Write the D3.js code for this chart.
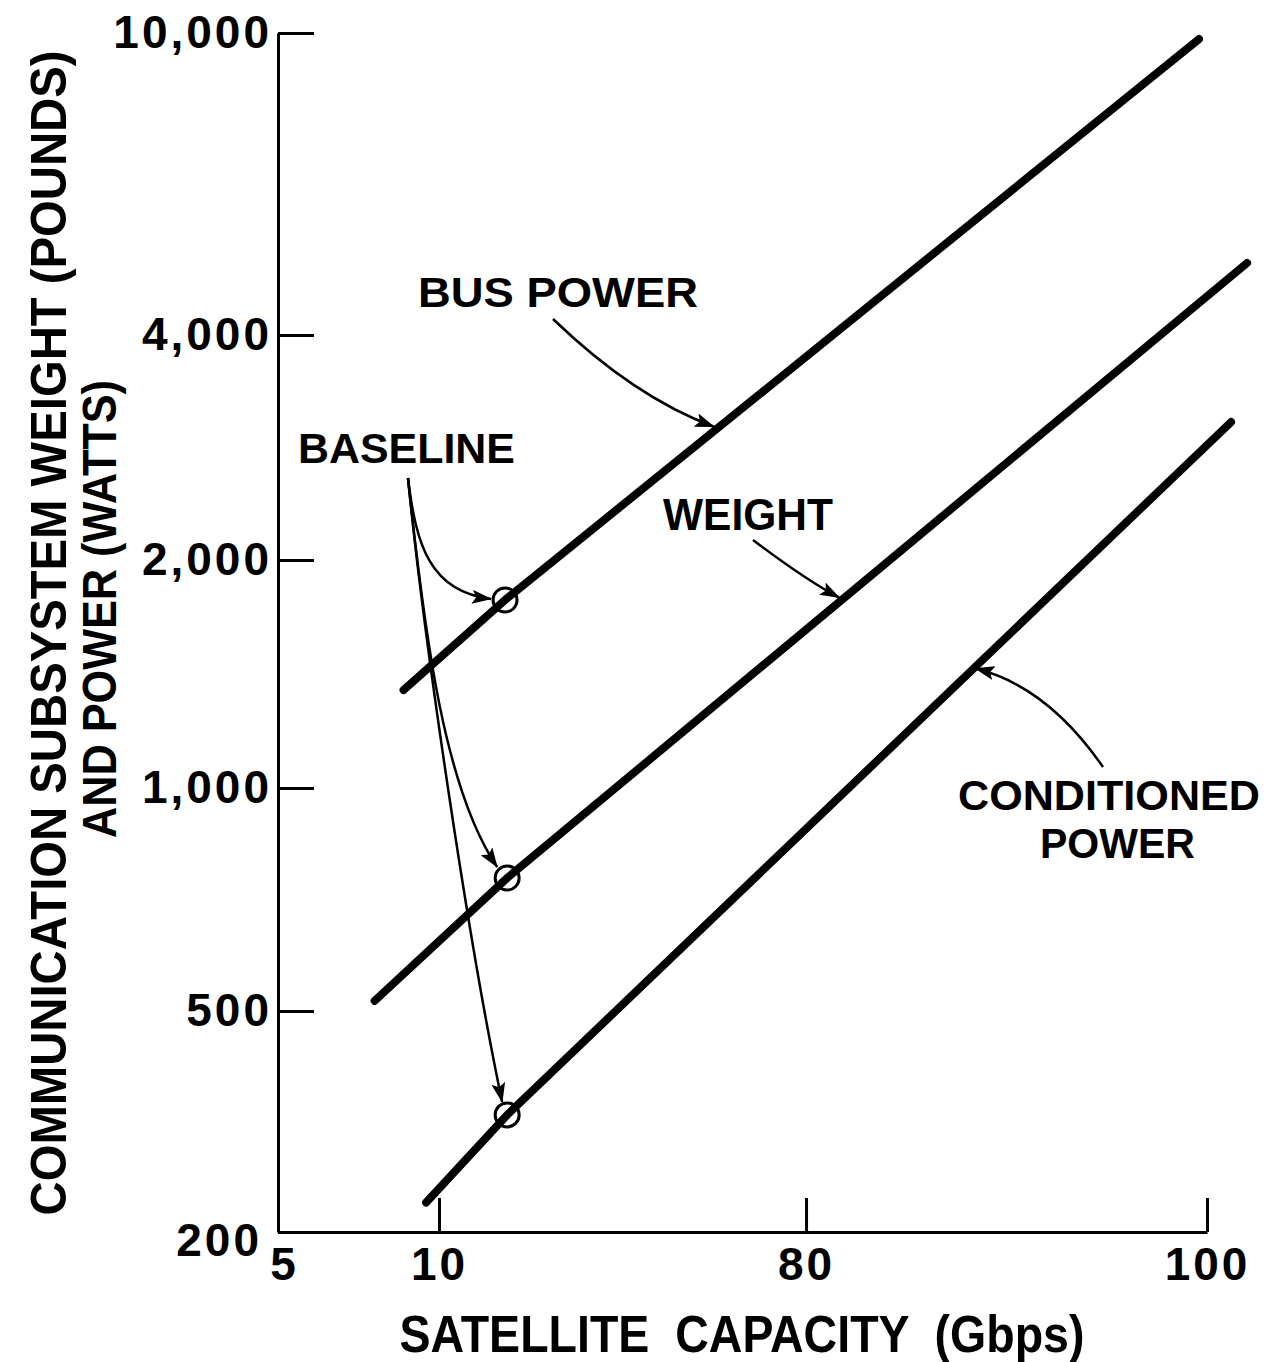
<!DOCTYPE html>
<html>
<head>
<meta charset="utf-8">
<script src="https://cdn.jsdelivr.net/npm/d3@7/dist/d3.min.js"></script>
<style>
    body { margin: 0; background: #fff; }
    svg text { font-family: "Liberation Sans", Arial, sans-serif; font-weight: bold; fill: #000; }
    .axis path, .axis line { stroke: #000; stroke-width: 3px; }
    .axis text { font-size: 46px; letter-spacing: 3px; }
    .curve { fill: none; stroke: #000; stroke-width: 8px; stroke-linecap: round; stroke-linejoin: round; }
    .baseline { fill: none; stroke: #000; stroke-width: 3px; }
    .pointer { fill: none; stroke: #000; stroke-width: 2.5px; }
    .xtitle { white-space: pre; }
</style>
</head>
<body>
<div id="chart"></div>
<script>
// tick labels of the two (hand drawn, uneven) axes
var capacityTicks = [5, 10, 80, 100];
var valueTicks = [200, 500, 1000, 2000, 4000, 10000];

// line start, baseline point, line end
var busPowerCapacity = [8.9, 22.6, 99.6];
var busPowerValue = [1347, 1771, 9818];
var weightCapacity = [8.0, 23.0, 102.0];
var weightValue = [516, 756, 4977];
var condPowerCapacity = [9.6, 23.0, 101.2];
var condPowerValue = [226, 325, 3059];

// capacity where each label's arrow meets its line
var pointerCapacity = [63.0, 81.8, 88.3];

var width = 1271, height = 1362;
var plotLeft = 278, plotRight = 1207, plotTop = 33, plotBottom = 1232;

// where each tick sits along the axis, as a share of its length
var xStops = [0, 0.1733, 0.5684, 1];
var yStops = [0, 0.1843, 0.3703, 0.5605, 0.7481, 1];

var x = d3.scaleLinear()
    .domain(capacityTicks)
    .range(xStops.map(function (f) { return plotLeft + f * (plotRight - plotLeft); }));

var y = d3.scaleLog()
    .domain(valueTicks)
    .range(yStops.map(function (f) { return plotBottom - f * (plotBottom - plotTop); }));

var svg = d3.select("#chart").append("svg")
    .attr("width", width)
    .attr("height", height);

svg.append("defs").append("marker")
    .attr("id", "head")
    .attr("markerUnits", "userSpaceOnUse")
    .attr("viewBox", "0 0 20 14")
    .attr("refX", 19).attr("refY", 7)
    .attr("markerWidth", 20).attr("markerHeight", 14)
    .attr("orient", "auto")
    .append("path")
    .attr("d", "M0,0 L20,7 L0,14 L4,7 Z")
    .attr("fill", "#000");

// axes, ticks pointing inward
var yAxis = svg.append("g")
    .attr("class", "axis")
    .attr("transform", "translate(" + plotLeft + ",0)")
    .call(d3.axisLeft(y)
        .tickValues(valueTicks)
        .tickFormat(d3.format(","))
        .tickSizeInner(-36)
        .tickSizeOuter(0)
        .tickPadding(6));

// the lowest label sits a bit low and left of the corner
yAxis.selectAll(".tick text")
    .filter(function (d) { return d === 200; })
    .attr("x", -16)
    .attr("dy", "0.5em");

var xAxis = svg.append("g")
    .attr("class", "axis")
    .attr("transform", "translate(0," + plotBottom + ")")
    .call(d3.axisBottom(x)
        .tickValues(capacityTicks)
        .tickFormat(d3.format("d"))
        .tickSizeInner(-34)
        .tickSizeOuter(0)
        .tickPadding(15));

xAxis.selectAll(".tick text")
    .filter(function (d) { return d === 5; })
    .attr("x", 6);

var series = [
    { name: "bus", cap: busPowerCapacity, val: busPowerValue },
    { name: "weight", cap: weightCapacity, val: weightValue },
    { name: "cond", cap: condPowerCapacity, val: condPowerValue }
];

var line = d3.line()
    .x(function (d) { return x(d[0]); })
    .y(function (d) { return y(d[1]); });

series.forEach(function (s, k) {
    var pts = s.cap.map(function (c, i) { return [c, s.val[i]]; });
    s.pts = pts;
    svg.append("path").attr("class", "curve").attr("d", line(pts));
    svg.append("circle")
        .attr("class", "baseline")
        .attr("cx", x(pts[1][0]))
        .attr("cy", y(pts[1][1]))
        .attr("r", 12);

    // spot on the drawn line (between baseline and end) for the label arrow
    var x1 = x(pts[1][0]), y1 = y(pts[1][1]);
    var x2 = x(pts[2][0]), y2 = y(pts[2][1]);
    var px = x(pointerCapacity[k]);
    s.tip = [px, y1 + (px - x1) / (x2 - x1) * (y2 - y1)];
    s.base = [x1, y1];
});

// labels
function label(txt, px, py, len, size) {
    svg.append("text")
        .attr("x", px).attr("y", py)
        .attr("font-size", size || 43)
        .attr("textLength", len)
        .attr("lengthAdjust", "spacingAndGlyphs")
        .text(txt);
}
label("BUS POWER", 418, 307, 280);
label("BASELINE", 298, 463, 217);
label("WEIGHT", 663, 530, 170, 45);
label("CONDITIONED", 958, 810, 302);
label("POWER", 1040, 858, 155);

// pointer arrows
var b = series[0].tip, w = series[1].tip, c = series[2].tip;
var b1 = series[0].base, w1 = series[1].base, c1 = series[2].base;

var pointers = [
    "M553,319 Q634,397 " + (b[0] - 3) + "," + (b[1] - 2),
    "M753,540 Q806,580 " + (w[0] - 3) + "," + (w[1] - 2),
    "M1103,767 Q1047,686 " + (c[0] + 3) + "," + (c[1] - 1),
    "M408,478 C416,545 430,592 " + (b1[0] - 14) + "," + (b1[1] - 1),
    "M408,478 C425,640 445,790 " + (w1[0] - 10) + "," + (w1[1] - 11),
    "M408,478 C425,650 470,950 " + (c1[0] - 5) + "," + (c1[1] - 13)
];
svg.selectAll("path.pointer")
    .data(pointers)
    .enter().append("path")
    .attr("class", "pointer")
    .attr("d", function (d) { return d; })
    .attr("marker-end", "url(#head)");

// axis titles
svg.append("text")
    .attr("class", "xtitle")
    .attr("transform", "translate(742,1352)")
    .attr("text-anchor", "middle")
    .attr("font-size", 52)
    .attr("textLength", 685)
    .attr("lengthAdjust", "spacingAndGlyphs")
    .text("SATELLITE  CAPACITY  (Gbps)");

svg.append("text")
    .attr("transform", "translate(66,633) rotate(-90)")
    .attr("text-anchor", "middle")
    .attr("font-size", 50)
    .attr("textLength", 1165)
    .attr("lengthAdjust", "spacingAndGlyphs")
    .text("COMMUNICATION SUBSYSTEM WEIGHT (POUNDS)");

svg.append("text")
    .attr("transform", "translate(116,609) rotate(-90)")
    .attr("text-anchor", "middle")
    .attr("font-size", 48)
    .attr("textLength", 458)
    .attr("lengthAdjust", "spacingAndGlyphs")
    .text("AND POWER (WATTS)");
</script>
</body>
</html>
